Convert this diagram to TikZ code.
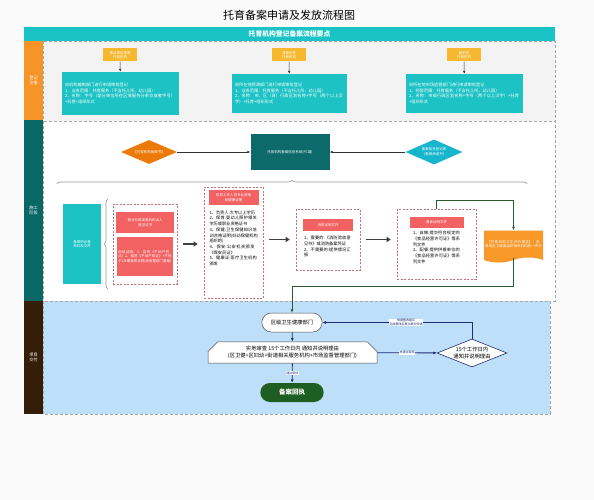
\documentclass[tikz,border=0pt]{standalone}
\usepackage{fontspec}
\setmainfont{Noto Sans CJK SC}
\XeTeXlinebreaklocale "zh"
\XeTeXlinebreakskip=0pt plus 1pt
\usetikzlibrary{shapes.geometric,shapes.misc,shapes.symbols,arrows.meta,decorations.pathreplacing}
\definecolor{pagebg}{RGB}{250,250,250}
\definecolor{hdr}{RGB}{26,196,198}
\definecolor{lanea}{RGB}{247,148,40}
\definecolor{laneb}{RGB}{8,104,102}
\definecolor{lanec}{RGB}{52,30,10}
\definecolor{greybg}{RGB}{243,243,243}
\definecolor{bluebg}{RGB}{190,223,250}
\definecolor{ylw}{RGB}{246,184,46}
\definecolor{tealbox}{RGB}{28,194,196}
\definecolor{darkteal}{RGB}{12,106,106}
\definecolor{orangedia}{RGB}{236,122,8}
\definecolor{cyandia}{RGB}{22,182,204}
\definecolor{redbox}{RGB}{242,98,98}
\definecolor{grpline}{RGB}{196,110,120}
\definecolor{docor}{RGB}{247,152,40}
\definecolor{pathgreen}{RGB}{42,92,46}
\definecolor{navy}{RGB}{30,44,112}
\definecolor{okgreen}{RGB}{30,94,34}
\newcommand{\tinyfont}{\fontsize{3.5}{4.6}\selectfont}
\newcommand{\smallfont}{\fontsize{4.2}{5.7}\selectfont}
\newcommand{\midfont}{\fontsize{5.3}{6.6}\selectfont}
\newcommand{\lanelabel}[3]{\node[white,align=center,font=\smallfont] (#1) at (33.5,#2) {#3};}
\tikzset{
  lanebd/.style={draw=gray!70,densely dashed,line width=0.4pt},
  ybox/.style={fill=ylw,text=white,font=\tinyfont,align=center,minimum width=34pt,minimum height=13pt,inner sep=1pt},
  tbox/.style={fill=tealbox,text=white,font=\smallfont,align=left,text width=#1,inner sep=3pt},
  grp/.style={draw=grpline,dash pattern=on 2pt off 1.5pt,line width=0.6pt,fill=white},
  rbox/.style={fill=redbox,text=white,font=\tinyfont,align=center,inner sep=1pt},
  plain/.style={font=\smallfont,align=left,text width=#1,inner sep=0pt},
  arr/.style={-{Latex[length=3pt,width=2.5pt]},line width=0.5pt,black!80},
  bigarr/.style={-{Triangle[length=4pt,width=5pt]},line width=1.4pt,black!75,shorten <=6pt,shorten >=6pt},
  garr/.style={-{Latex[length=3.5pt,width=3pt]},line width=1pt,pathgreen},
  narr/.style={-{Latex[length=3.5pt,width=3pt]},line width=0.8pt,navy},
  lbl/.style={fill=white,font=\fontsize{3}{3.8}\selectfont,align=center,inner sep=0.6pt},
  brc/.style={draw=gray!80,line width=0.6pt,decorate,decoration={brace,amplitude=#1}}
}
\begin{document}
\begin{tikzpicture}[x=1pt,y=-1pt]
% page and title
\fill[pagebg] (0,0) rectangle (594,500);
\node[font=\fontsize{11}{13}\selectfont] (title) at (289,15) {托育备案申请及发放流程图};
\fill[hdr] (24,27) rectangle (555,41);
\node[white,font=\fontsize{6.8}{8}\selectfont\bfseries] (head) at (289.5,34) {托育机构登记备案流程要点};
% lanes
\fill[lanea] (24,41) rectangle (43,120);
\fill[laneb] (24,120) rectangle (43,301);
\fill[lanec] (24,301) rectangle (43,414);
\draw[lanebd,fill=greybg] (43,41) rectangle (555,121);
\draw[lanebd,fill=white] (43,121) rectangle (555,301);
\draw[lanebd,fill=bluebg] (43,301) rectangle (550,414);
\lanelabel{la}{80.5}{登记\\注册}
\lanelabel{lb}{210.5}{施工\\阶段}
\lanelabel{lc}{357.5}{项目\\交付}
% registration
\node[ybox] (y1) at (120,55) {事业单位性质\\托育机构};
\node[ybox] (y2) at (289,55) {非营利性\\托育机构};
\node[ybox] (y3) at (464,55) {营利性\\托育机构};
\node[tbox=111pt,minimum height=43pt] (t1) at (120.5,93.5) {向机构编制部门进行申请审批登记\\1、业务范围：托育服务（不含托儿所、幼儿园）\\2、名称：字号（是分单位所在区域服务分单位或者字号）+托育+组织形式};
\node[tbox=109pt,minimum height=39pt] (t2) at (289.5,93.5) {向所在地民政部门进行申请审批登记\\1、业务范围：托育服务（不含托儿所、幼儿园）\\2、名称：市、区（县）行政区划名称+字号（两个以上汉字）+托育+组织形式};
\node[tbox=111pt,minimum height=39pt] (t3) at (464.5,93.5) {向所在地市场监管部门进行申请审批登记\\1、经营范围：托育服务（不含托儿所、幼儿园）\\2、名称：市级行政区划名称+字号（两个以上汉字）+托育+组织形式};
\draw[arr] (y1) -- (t1);
\draw[arr] (y2) -- (t2);
\draw[arr] (y3) -- (t3);
% construction
\node[diamond,aspect=2.3,fill=orangedia,text=white,font=\tinyfont,minimum width=56pt,minimum height=24pt,inner sep=0pt] (d1) at (149,152) {【托育机构备案书】};
\node[fill=darkteal,text=white,font=\tinyfont,minimum width=79pt,minimum height=36pt] (sys) at (290,152) {托育机构备案信息系统(PC端)};
\node[diamond,aspect=2.3,fill=cyandia,text=white,font=\tinyfont,align=center,minimum width=57pt,minimum height=25pt,inner sep=0pt] (d2) at (434,152) {备案信息登记表\\(备案承诺书)};
\draw[arr] (d1) -- (sys);
\draw[arr] (d2) -- (sys);
\draw[brc=4pt] (57,184) -- (527,184);
\node[fill=tealbox,text=white,font=\tinyfont,align=center,minimum width=38pt,minimum height=80pt] (docs) at (82,244) {备案的必备\\资料及文件};
\draw[brc=4pt] (108,289) -- (108,199);
\node[grp,minimum width=64pt,minimum height=80pt] (g1) at (145,244) {};
\node[rbox,minimum width=58pt,minimum height=21pt] (r1) at (145,222.5) {营业执照或者机构法人\\登记证书};
\node[rbox,text width=54pt,minimum height=39pt,align=left] (r2) at (145,256.5) {场地证明：1、自有《不动产权证》2、租赁《不动产权证》+不低于2年期租赁合同(经房屋部门备案)};
\node[grp,minimum width=59pt,minimum height=111pt] (g2) at (233.5,242.5) {};
\node[rbox,minimum width=50pt,minimum height=15pt] (r3) at (233.5,197.5) {机构工作人员专业资格\\和健康证明};
\node[plain=49pt,anchor=north] (l2) at (234,210.5) {1、负责人:大专以上学历\\2、保育:婴幼儿照护相关学历或职业资格证书\\3、保健:卫生保健知识培训合格证明(妇幼保健机构组织的)\\4、保安:公安机关颁发《保安员证》\\5、健康证:医疗卫生机构颁发};
\node[grp,minimum width=64pt,minimum height=61pt] (g3) at (328,239.5) {};
\node[rbox,minimum width=50pt,minimum height=12pt] (r4) at (328,225) {消防证明文件};
\node[plain=48pt,anchor=north] (l3) at (328,236) {1、需要的:《消防验收意见书》或消防备案凭证\\2、不需要的:提供情况汇报};
\node[grp,minimum width=79pt,minimum height=70pt] (g4) at (436.5,244) {};
\node[rbox,minimum width=54pt,minimum height=11pt] (r5) at (436.5,222.5) {餐食证明文件};
\node[plain=48pt,anchor=north] (l4) at (437,231) {1、自做:提交符合规定的《食品经营许可证》等系列文件\\2、配餐:提供供餐单位的《食品经营许可证》等系列文件};
\draw[bigarr] (g1.east) -- (g1.east -| g2.west);
\draw[bigarr] (g2.east |- g3.west) -- (g3.west);
\draw[bigarr] (g3.east) -- (g3.east -| g4.west);
\node[tape,tape bend top=none,tape bend height=5pt,fill=docor,text=white,font=\tinyfont,align=center,text width=57pt,minimum height=32pt,inner sep=1pt] (doc) at (513.5,244) {【托育机构卫生评价报告】：由\\属地区卫健委组织相关机构统一评价};
\draw[garr] (g4.north) -- ++(0,-8) -| (doc.north);
\coordinate (gbend) at (292,286);
% delivery
\node[rounded rectangle,draw=black!70,line width=0.5pt,fill=white,font=\midfont,minimum width=67pt,minimum height=19pt] (hosp) at (292,322.5) {区级卫生健康部门};
\draw[garr] (doc.south) |- (gbend) -- (hosp.north);
\node[chamfered rectangle,chamfered rectangle corners={north west,north east},chamfered rectangle xsep=6pt,draw=black!70,line width=0.5pt,fill=white,font=\midfont,align=center,minimum width=169pt,minimum height=21pt,inner sep=1pt] (check) at (292.5,352.5) {实地审查 15个工作日内 通知并说明理由\\(区卫健+区妇幼+街道相关服务机构+市场监督管理部门)};
\node[diamond,aspect=2.5,draw=navy,line width=0.6pt,fill=white,font=\midfont,align=center,minimum width=70pt,minimum height=28pt,inner sep=0pt] (d3) at (472,353) {15个工作日内\\通知并说明理由};
\node[rounded rectangle,fill=okgreen,text=white,font=\fontsize{6.5}{8}\selectfont\bfseries,minimum width=70pt,minimum height=19pt] (receipt) at (292,392.5) {备案回执};
\draw[narr] (hosp) -- (check);
\draw[narr] (check) -- node[lbl] {未通过审核} (d3);
\draw[narr] (d3.north) |- node[lbl,pos=0.72] {根据整改建议\\完成整改后再次提交申请} (hosp.east);
\draw[narr] (check) -- node[lbl] {通过审核} (receipt);
\end{tikzpicture}
\end{document}
